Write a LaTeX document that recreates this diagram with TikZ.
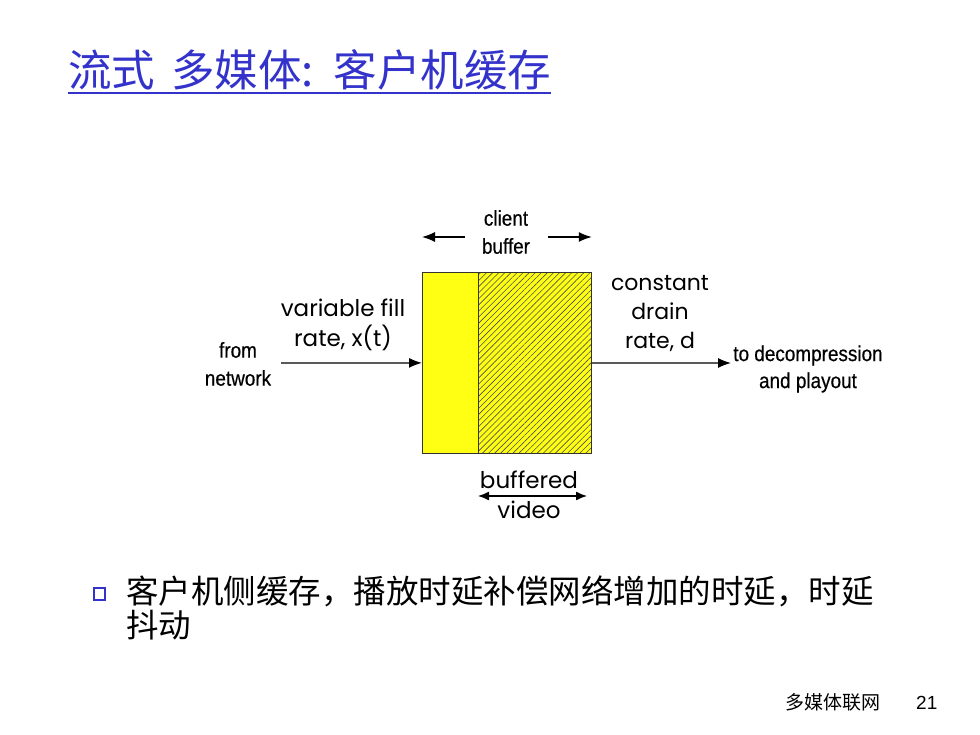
\documentclass[tikz,border=0pt]{standalone}
\usepackage{fontspec}
\setmainfont{Liberation Sans}
\newfontfamily\cjk{Noto Sans CJK SC}
\newfontfamily\narrowf[FakeStretch=0.88,FakeBold=0.4]{Liberation Sans}
\newfontfamily\comicf{Poppins}
\usetikzlibrary{arrows.meta,patterns.meta}
\definecolor{titleblue}{RGB}{51,51,204}
\definecolor{boxyellow}{RGB}{255,255,20}
\begin{document}
\begin{tikzpicture}[x=1pt,y=-1pt,
  arr/.style={-{Latex[length=13pt,width=10pt]}, line width=1.3pt},
  darr/.style={{Latex[length=11pt,width=9pt]}-{Latex[length=11pt,width=9pt]}, line width=1.3pt},
  lab/.style={font=\narrowf\fontsize{21.5}{28}\selectfont, align=center, inner sep=0},
  clab/.style={font=\comicf\fontsize{23}{30}\selectfont, align=center, inner sep=0},
  bufbox/.style={draw=black!80, line width=0.8pt, fill=boxyellow, inner sep=0, anchor=north west, minimum height=181pt},
  cjkbody/.style={font=\cjk\fontsize{32.5}{34}\selectfont, inner sep=0, anchor=base west}]
\useasboundingbox (0,0) rectangle (980,735);
\fill[white] (0,0) rectangle (980,735);

% title
\node[anchor=base west, inner sep=0, text=titleblue, font=\cjk\fontsize{43.5}{43.5}\selectfont] (title) at (68,87)
  {流式\hspace{16pt}多媒体:\hspace{20pt}客户机缓存};
\draw[titleblue, line width=1.8pt] ([yshift=-6pt]title.base west) -- ([yshift=-6pt]title.base east);

% buffer
\node[bufbox, minimum width=56pt] (yel) at (422,272) {};
\node[bufbox, minimum width=113pt] (buf) at (478,272) {};
\fill[pattern={Lines[angle=45,distance=4.3pt,line width=0.6pt]}, pattern color=black!70]
  ([xshift=0.6pt,yshift=-0.6pt]buf.north west) rectangle ([xshift=-0.6pt,yshift=0.6pt]buf.south east);
\draw[black!80, line width=0.8pt] (buf.north west) rectangle (buf.south east);

% client buffer
\node[lab] (cb) at (506,232) {client\\buffer};
\coordinate (cbl) at (465,237);
\coordinate (cbr) at (548,237);
\draw[arr] (cbl) -- (yel.west |- cbl);
\draw[arr] (cbr) -- (buf.east |- cbr);

% input
\node[lab] (src) at (238,364) {from\\network};
\coordinate (inA) at (281,363);
\draw[arr] (inA) -- (yel.west);
\node[clab] (vf) at (343,325) {variable fill\\rate, x(t)};

% output
\coordinate (outB) at (731,363);
\draw[arr] (buf.east) -- (outB);
\node[clab, font=\comicf\fontsize{22}{29}\selectfont] (cd) at (660,314) {constant\\drain\\rate, d};
\node[lab, font=\narrowf\fontsize{21.5}{27}\selectfont] (dst) at (808,369) {to decompression\\and playout};

% buffered video
\node[clab] (bv) at (529,495) {buffered\\video};
\coordinate (bvl) at (478,496);
\coordinate (bvr) at (587,496);
\draw[darr] (bvl) -- (bvr);

% bullet text
\node[draw=titleblue, line width=2pt, fill=white, minimum width=11pt, minimum height=12pt, inner sep=0] (bul) at (99.5,594) {};
\node[cjkbody] (t1) at (126,603) {客户机侧缓存，播放时延补偿网络增加的时延，时延};
\node[cjkbody] (t2) at (126,637) {抖动};

% footer
\node[anchor=base west, inner sep=0, font=\cjk\fontsize{19}{19}\selectfont] (ft) at (785,709) {多媒体联网};
\node[anchor=base west, inner sep=0, font=\fontsize{19}{19}\selectfont] (pg) at (916,709) {21};
\end{tikzpicture}
\end{document}
